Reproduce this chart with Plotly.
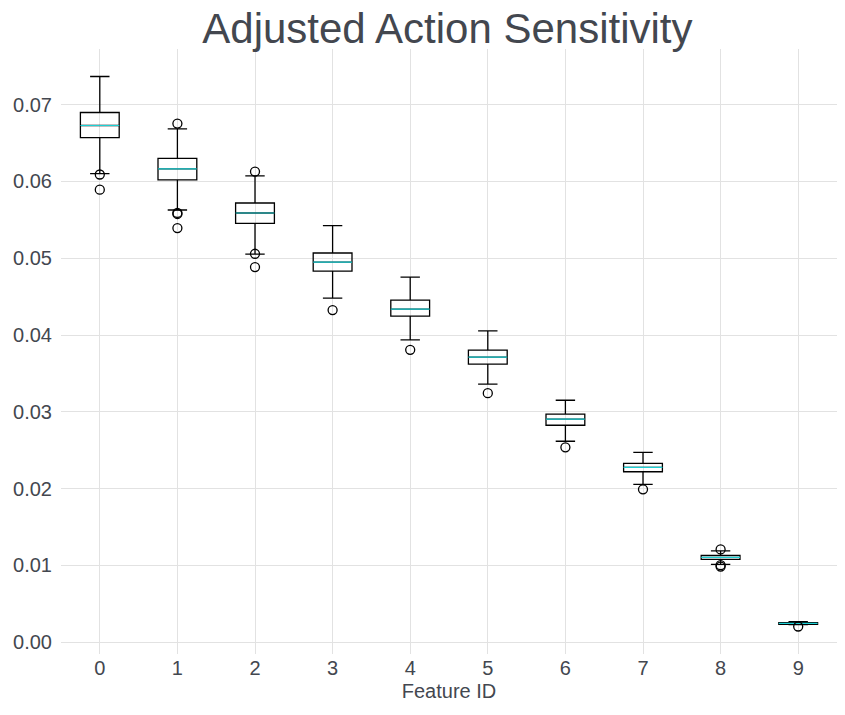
import plotly.graph_objects as go

# box stats per feature
feature_ids = [0, 1, 2, 3, 4, 5, 6, 7, 8, 9]
q1 = [0.06571, 0.06019, 0.05453, 0.04833, 0.04247, 0.03621, 0.02825, 0.02220, 0.01078, 0.00233]
median = [0.06728, 0.06162, 0.05589, 0.04950, 0.04338, 0.03712, 0.02904, 0.02278, 0.01104, 0.00245]
q3 = [0.06897, 0.06301, 0.05719, 0.05068, 0.04455, 0.03803, 0.02969, 0.02330, 0.01130, 0.00255]
lower = [0.06102, 0.05628, 0.05054, 0.04481, 0.03937, 0.03360, 0.02617, 0.02056, 0.01013, 0.00231]
upper = [0.07366, 0.06684, 0.06071, 0.05424, 0.04755, 0.04055, 0.03151, 0.02473, 0.01190, 0.00268]

# outliers (feature id, value)
out_x = [0, 0, 1, 1, 1, 1, 2, 2, 2, 3, 4, 5, 6, 7, 8, 8, 8, 9]
out_y = [0.06090, 0.05893, 0.06753, 0.05590, 0.05576, 0.05393, 0.06128, 0.05058, 0.04885,
         0.04325, 0.03807, 0.03243, 0.02538, 0.01991, 0.01209, 0.01004, 0.00985, 0.00205]

text_col = '#43474f'
box_w = 0.5

fig = go.Figure()
for i, fid in enumerate(feature_ids):
    fig.add_trace(go.Box(x=[fid], q1=[q1[i]], median=[median[i]], q3=[q3[i]],
                         lowerfence=[lower[i]], upperfence=[upper[i]],
                         width=box_w, whiskerwidth=0.5, boxpoints=False,
                         line=dict(color='black', width=1.3),
                         fillcolor='rgba(0,0,0,0)', showlegend=False))

# cyan median lines on top
mx, my = [], []
for fid, m in zip(feature_ids, median):
    mx += [fid - box_w / 2, fid + box_w / 2, None]
    my += [m, m, None]
fig.add_trace(go.Scatter(x=mx, y=my, mode='lines', line=dict(color='#1cd0d4', width=1.2),
                         showlegend=False))

fig.add_trace(go.Scatter(x=out_x, y=out_y, mode='markers', showlegend=False,
                         marker=dict(symbol='circle-open', size=9, color='black',
                                     line=dict(width=1.3))))

lo = min(min(lower), min(out_y))
hi = max(max(upper), max(out_y))
pad = (hi - lo) * 0.05

fig.update_layout(
    width=845, height=715,
    margin=dict(l=53, r=16, t=41, b=69),
    paper_bgcolor='white', plot_bgcolor='white',
    font=dict(family='Liberation Sans, Arial, sans-serif', color=text_col, size=20),
    title=dict(text='Adjusted Action Sensitivity', x=0.52, xanchor='center',
               y=0.971, yanchor='middle', font=dict(size=42, color=text_col)),
    xaxis=dict(range=[-0.5, 9.5], tickmode='array', tickvals=feature_ids,
               ticktext=[str(f) for f in feature_ids], showgrid=True,
               gridcolor='#e2e2e2', gridwidth=1, zeroline=False, showline=False,
               ticks='', automargin=False,
               title=dict(text='Feature ID', font=dict(size=20), standoff=5)),
    yaxis=dict(range=[lo - pad, hi + pad], dtick=0.01, tickformat='.2f',
               showgrid=True, gridcolor='#e2e2e2', gridwidth=1, zeroline=False,
               showline=False, ticks='outside', ticklen=4, tickcolor='rgba(0,0,0,0)',
               automargin=False),
)

fig.write_html("out.html")
